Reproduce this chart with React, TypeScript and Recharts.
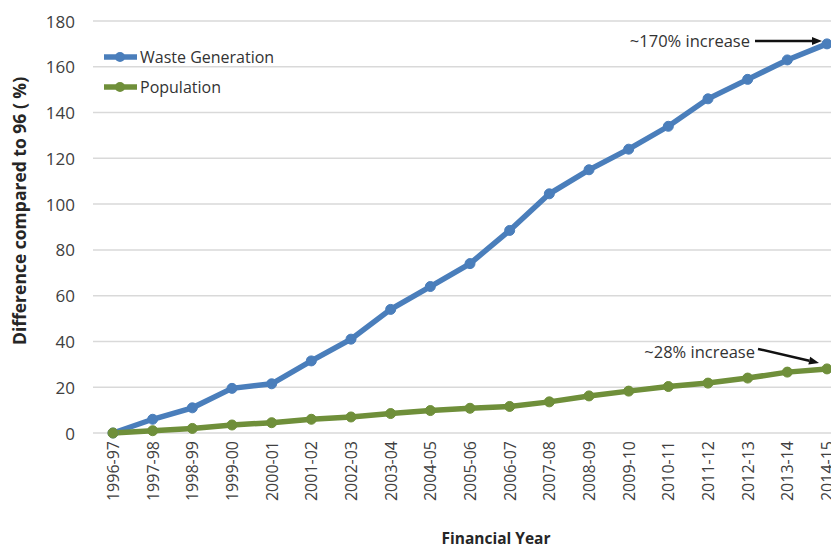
import React from 'react';
import { LineChart, Line, XAxis, YAxis, CartesianGrid, Legend, LabelList } from 'recharts';

const categories = [
  '1996-97', '1997-98', '1998-99', '1999-00', '2000-01', '2001-02', '2002-03',
  '2003-04', '2004-05', '2005-06', '2006-07', '2007-08', '2008-09', '2009-10',
  '2010-11', '2011-12', '2012-13', '2013-14', '2014-15',
];
const wasteGeneration = [0, 6, 11, 19.5, 21.5, 31.5, 41, 54, 64, 74, 88.5, 104.5, 115, 124, 134, 146, 154.5, 163, 170];
const population = [0, 1, 2, 3.5, 4.5, 6, 7, 8.5, 9.8, 10.8, 11.6, 13.6, 16.2, 18.3, 20.3, 21.8, 24, 26.6, 28];
const yTicks = [0, 20, 40, 60, 80, 100, 120, 140, 160, 180];

const wasteNote = '~170% increase';
const populationNote = '~28% increase';

const BLUE = '#4a7ebb';
const GREEN = '#6f8f3a';
const FONT = '"Open Sans", "Noto Sans", sans-serif';

const data = categories.map((year, i) => ({
  year,
  waste: wasteGeneration[i],
  population: population[i],
}));

const lastIndex = categories.length - 1;

function arrow(x1: number, y1: number, x2: number, y2: number) {
  const dx = x2 - x1;
  const dy = y2 - y1;
  const len = Math.hypot(dx, dy);
  const ux = dx / len;
  const uy = dy / len;
  const head = 10;
  const half = 4;
  const bx = x2 - ux * head;
  const by = y2 - uy * head;
  const pts = `${x2},${y2} ${bx - uy * half},${by + ux * half} ${bx + uy * half},${by - ux * half}`;
  return (
    <g>
      <line x1={x1} y1={y1} x2={bx} y2={by} stroke="#111" strokeWidth={2.5} />
      <polygon points={pts} fill="#111" />
    </g>
  );
}

const renderWasteNote = (props: any) => {
  if (props.index !== lastIndex) return null;
  const x = Number(props.x);
  const y = Number(props.y);
  return (
    <g>
      <text x={x - 77} y={y - 3} textAnchor="end" dominantBaseline="central"
        fontFamily={FONT} fontSize={16.5} fill="#333">{wasteNote}</text>
      {arrow(x - 72, y - 3, x - 5, y - 3)}
    </g>
  );
};

const renderPopulationNote = (props: any) => {
  if (props.index !== lastIndex) return null;
  const x = Number(props.x);
  const y = Number(props.y);
  return (
    <g>
      <text x={x - 72} y={y - 17} textAnchor="end" dominantBaseline="central"
        fontFamily={FONT} fontSize={16.5} fill="#333">{populationNote}</text>
      {arrow(x - 69, y - 20, x - 8, y - 6)}
    </g>
  );
};

const XTick = (props: any) => {
  const { x, y, payload } = props;
  return (
    <text x={x} y={y} transform={`rotate(-90, ${x}, ${y})`} textAnchor="end"
      dominantBaseline="central" fontFamily={FONT} fontSize={16} fill="#404040">
      {payload.value}
    </text>
  );
};

const YTick = (props: any) => {
  const { x, y, payload } = props;
  return (
    <text x={x} y={y} textAnchor="end" dominantBaseline="central"
      fontFamily={FONT} fontSize={17} fill="#404040">
      {payload.value}
    </text>
  );
};

const renderLegend = () => {
  const items = [
    { label: 'Waste Generation', color: BLUE },
    { label: 'Population', color: GREEN },
  ];
  return (
    <svg width={200} height={60} style={{ overflow: 'visible', display: 'block' }}>
      {items.map((it, i) => {
        const cy = 8 + i * 30;
        return (
          <g key={it.label}>
            <line x1={0} y1={cy} x2={33} y2={cy} stroke={it.color} strokeWidth={5.5} />
            <circle cx={16} cy={cy} r={5} fill={it.color} />
            <text x={36} y={cy} dominantBaseline="central" fontFamily={FONT}
              fontSize={16} fill="#333">{it.label}</text>
          </g>
        );
      })}
    </svg>
  );
};

const XTitle = (props: any) => {
  const vb = props.viewBox || {};
  return (
    <text x={vb.x + vb.width / 2 + 26} y={538} textAnchor="middle" dominantBaseline="central"
      fontFamily={FONT} fontSize={15.5} fontWeight="bold" fill="#262626">
      Financial Year
    </text>
  );
};

const YTitle = () => (
  <text x={19} y={211} transform="rotate(-90, 19, 211)" textAnchor="middle"
    dominantBaseline="central" fontFamily={FONT} fontSize={17.5} fontWeight="bold" fill="#262626">
    Difference compared to 96 ( %)
  </text>
);

export default function App() {
  return (
    <div style={{ position: 'absolute', left: 0, top: 0, width: 831, height: 549, overflow: 'hidden', background: '#fff' }}>
      <LineChart width={850} height={549} data={data}
        margin={{ top: 21, right: 3, left: 0, bottom: 40 }}>
        <CartesianGrid vertical={false} stroke="#d9d9d9" strokeWidth={1.5} />
        <XAxis dataKey="year" interval={0} padding={{ left: 20, right: 20 }}
          axisLine={false} tickLine={false} tickMargin={2} height={76}
          tick={<XTick />} label={<XTitle />} />
        <YAxis domain={[0, 180]} ticks={yTicks} width={93} axisLine={false}
          tickLine={false} tickMargin={12} tick={<YTick />} label={<YTitle />} />
        <Legend layout="vertical" verticalAlign="middle" align="center" content={renderLegend}
          wrapperStyle={{ position: 'absolute', left: 104, top: 49, width: 200, height: 60 }} />
        <Line type="linear" dataKey="waste" name="Waste Generation" stroke={BLUE}
          strokeWidth={5.5} dot={{ r: 5, fill: BLUE, stroke: BLUE, strokeWidth: 1 }}
          isAnimationActive={false}>
          <LabelList dataKey="waste" content={renderWasteNote} />
        </Line>
        <Line type="linear" dataKey="population" name="Population" stroke={GREEN}
          strokeWidth={5.5} dot={{ r: 5, fill: GREEN, stroke: GREEN, strokeWidth: 1 }}
          isAnimationActive={false}>
          <LabelList dataKey="population" content={renderPopulationNote} />
        </Line>
      </LineChart>
    </div>
  );
}
